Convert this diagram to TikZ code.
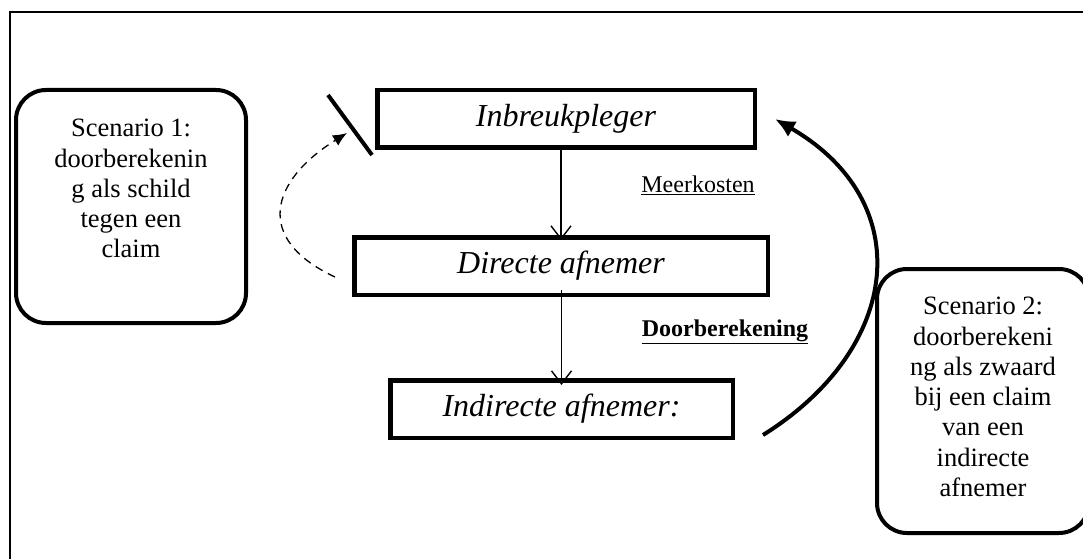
\documentclass[tikz,border=0pt]{standalone}
\usepackage{fontspec}
\setmainfont{Liberation Serif}
\usetikzlibrary{arrows.meta,positioning}

\begin{document}
\begin{tikzpicture}[x=1pt,y=1pt,
    actor/.style={draw,line width=4.5pt,minimum height=57.5pt,inner sep=0pt,
      font=\fontsize{32}{36}\selectfont\itshape},
    scenbox/.style={draw,line width=4pt,rounded corners=30pt},
    scentext/.style={align=center,inner sep=0pt,font=\fontsize{26.5}{30.3}\selectfont},
    lbl/.style={inner sep=0pt,font=\fontsize{24}{27}\selectfont},
    flow/.style={line width=1.4pt,-{Straight Barb[length=13pt,width=20pt]}},
    pass/.style={line width=1.3pt,dash pattern=on 8pt off 6pt,-{Latex[length=14pt,width=12pt]}},
    sword/.style={line width=4pt,-{Latex[length=20pt,width=18pt]}}]
  \useasboundingbox (0,0) rectangle (1083,558);
  \draw[line width=2pt] (10,-40) -- (10,546) -- (1100,546);

  % chain
  \node[actor,minimum width=377.5pt] (inbreuk) at (566,439) {Inbreukpleger};
  \node[actor,minimum width=413.5pt,below=85pt of inbreuk,xshift=-5pt] (direct) {Directe afnemer};
  \node[actor,minimum width=342.5pt,below=81pt of direct,xshift=0.5pt] (indirect) {Indirecte afnemer:};

  \node[lbl] (cost) at (698,373) {\underline{Meerkosten}};
  \node[lbl] (fee) at (725,226) {\textbf{\underline{Doorberekening}}};

  \draw[flow] ([yshift=5pt]inbreuk.south -| direct.north) -- ([yshift=-5pt]direct.north);
  \draw[flow] ([yshift=7pt]direct.south -| indirect.north) -- ([yshift=-7pt]indirect.north);

  % scenarios
  \node[scenbox,minimum width=230pt,minimum height=233pt] (sc1) at (131,351.5) {};
  \node[scentext,below=31pt of sc1.north] (sc1txt)
    {Scenario 1:\\doorberekenin\\g als schild\\tegen een\\claim};
  \node[scenbox,minimum width=212pt,minimum height=264pt] (sc2) at (983,157) {};
  \node[scentext,below=30pt of sc2.north] (sc2txt)
    {Scenario 2:\\doorberekeni\\ng als zwaard\\bij een claim\\van een\\indirecte\\afnemer};

  % shield and sword
  \coordinate (cut1) at ([xshift=-47pt,yshift=24pt]inbreuk.west);
  \coordinate (cut2) at ([xshift=-3pt,yshift=-36pt]inbreuk.west);
  \draw[line width=4pt] (cut1) -- (cut2);
  \draw[pass] ([xshift=-17pt,yshift=-11pt]direct.west)
    to[out=155,in=-148,looseness=1.6] ([xshift=-28pt,yshift=-14pt]inbreuk.west);
  \draw[sword] ([xshift=28pt,yshift=-26pt]indirect.east)
    to[out=32,in=-30,looseness=1.33] ([xshift=18pt]inbreuk.east);
\end{tikzpicture}
\end{document}
